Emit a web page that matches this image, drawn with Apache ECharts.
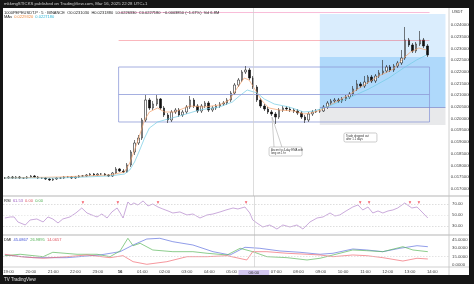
<!DOCTYPE html>
<html><head><meta charset="utf-8">
<script src="https://cdn.jsdelivr.net/npm/echarts@6/dist/echarts.min.js"></script>
<style>html,body{margin:0;padding:0;background:#000}#c{width:474px;height:284px}</style>
</head><body><div id="c"></div><script>
// ---------- data ----------
const barStart = -10;   // minutes after 19:00 of first bar
const barStep = 10;     // minutes per bar
// [open, close, low, high]
const candles = [
[0.017461,0.017461,0.017419,0.017504],[0.017461,0.017504,0.017419,0.017547],[0.017504,0.017461,0.017419,0.017547],
[0.017461,0.017504,0.017419,0.017547],[0.017504,0.017461,0.017419,0.017547],[0.017461,0.017461,0.017419,0.017504],
[0.017461,0.017504,0.017419,0.017547],[0.017504,0.017547,0.017461,0.017590],[0.017547,0.017504,0.017461,0.017590],
[0.017504,0.017461,0.017419,0.017547],[0.017461,0.017461,0.017419,0.017504],[0.017461,0.017419,0.017376,0.017504],
[0.017419,0.017376,0.017333,0.017461],[0.017376,0.017419,0.017333,0.017461],[0.017419,0.017461,0.017376,0.017504],
[0.017461,0.017461,0.017419,0.017504],[0.017461,0.017504,0.017419,0.017547],[0.017504,0.017504,0.017461,0.017547],
[0.017504,0.017461,0.017419,0.017547],[0.017461,0.017504,0.017419,0.017547],[0.017504,0.017547,0.017461,0.017590],
[0.017547,0.017547,0.017504,0.017590],[0.017547,0.017590,0.017504,0.017632],[0.017590,0.017632,0.017547,0.017675],
[0.017632,0.017590,0.017547,0.017675],[0.017590,0.017632,0.017547,0.017675],[0.017632,0.017632,0.017590,0.017675],
[0.017632,0.017590,0.017547,0.017675],[0.017590,0.017547,0.017504,0.017632],[0.017547,0.017675,0.017504,0.017718],
[0.017675,0.017846,0.017632,0.017931],[0.017846,0.017760,0.017718,0.017889],[0.017760,0.017718,0.017675,0.017846],
[0.017718,0.018017,0.017675,0.018102],[0.018017,0.018573,0.017931,0.018658],[0.018573,0.018957,0.018444,0.019085],
[0.018957,0.019171,0.018872,0.019299],[0.019171,0.019940,0.019085,0.020026],[0.019940,0.020795,0.019855,0.021009],
[0.020795,0.020453,0.020368,0.020880],[0.020453,0.020624,0.020368,0.020752],[0.020624,0.020838,0.020539,0.021009],
[0.020838,0.020453,0.020368,0.020880],[0.020453,0.020154,0.020068,0.020539],[0.020154,0.019940,0.019812,0.020239],
[0.019940,0.020282,0.019855,0.020368],[0.020282,0.020368,0.020197,0.020453],[0.020368,0.020154,0.020068,0.020453],
[0.020154,0.020282,0.020068,0.020368],[0.020282,0.020496,0.020197,0.020581],[0.020496,0.020795,0.020410,0.020966],
[0.020795,0.020539,0.020453,0.020880],[0.020539,0.020325,0.020239,0.020624],[0.020325,0.020539,0.020239,0.020624],
[0.020539,0.020667,0.020453,0.020752],[0.020667,0.020368,0.020282,0.020752],[0.020368,0.020453,0.020282,0.020539],
[0.020453,0.020539,0.020368,0.020624],[0.020539,0.020624,0.020453,0.020710],[0.020624,0.020667,0.020539,0.020752],
[0.020667,0.020795,0.020581,0.020880],[0.020795,0.021094,0.020710,0.021180],[0.021094,0.021436,0.021009,0.021522],
[0.021436,0.021650,0.021351,0.021735],[0.021650,0.021992,0.021564,0.022077],[0.021992,0.022077,0.021906,0.022248],
[0.022077,0.021735,0.021650,0.022163],[0.021735,0.021351,0.021265,0.021821],[0.021351,0.020795,0.020710,0.021436],
[0.020795,0.020539,0.020453,0.020880],[0.020539,0.020410,0.020325,0.020624],[0.020410,0.020282,0.020197,0.020496],
[0.020282,0.020197,0.020111,0.020368],[0.020197,0.020068,0.019769,0.020282],[0.020068,0.020368,0.019983,0.020453],
[0.020368,0.020453,0.020282,0.020539],[0.020453,0.020410,0.020325,0.020539],[0.020410,0.020368,0.020282,0.020496],
[0.020368,0.020325,0.020239,0.020453],[0.020325,0.020239,0.020154,0.020410],[0.020239,0.020068,0.019983,0.020325],
[0.020068,0.019940,0.019812,0.020154],[0.019940,0.020197,0.019855,0.020282],[0.020197,0.020282,0.020111,0.020368],
[0.020282,0.020325,0.020239,0.020410],[0.020325,0.020325,0.020239,0.020410],[0.020325,0.020496,0.020282,0.020581],
[0.020496,0.020667,0.020410,0.020752],[0.020667,0.020752,0.020581,0.020838],[0.020752,0.020795,0.020667,0.020880],
[0.020795,0.020752,0.020667,0.020880],[0.020752,0.020838,0.020667,0.020923],[0.020838,0.020923,0.020752,0.021009],
[0.020923,0.021051,0.020838,0.021137],[0.021051,0.021265,0.020966,0.021393],[0.021265,0.021479,0.021180,0.021650],
[0.021479,0.021393,0.021308,0.021564],[0.021393,0.021564,0.021308,0.021821],[0.021564,0.021778,0.021479,0.021864],
[0.021778,0.021607,0.021522,0.021864],[0.021607,0.021821,0.021522,0.021906],[0.021821,0.021949,0.021735,0.022077],
[0.021949,0.022034,0.021864,0.022505],[0.022034,0.022205,0.021949,0.022291],[0.022205,0.022077,0.021992,0.022291],
[0.022077,0.022248,0.021992,0.022334],[0.022248,0.022376,0.022163,0.022462],[0.022376,0.022590,0.022291,0.022932],
[0.022590,0.023359,0.022505,0.023915],[0.023359,0.023146,0.023060,0.023445],[0.023146,0.022889,0.022804,0.023231],
[0.022889,0.023188,0.022804,0.023274],[0.023188,0.023359,0.023103,0.023744],[0.023359,0.023103,0.023017,0.023445],
[0.023103,0.022718,0.022633,0.023188]
];
// moving averages [minute, price]
const maFast = [[-10,0.017461],[138,0.017504],[273,0.017590],[313,0.017718],[327,0.018102],[340,0.018658],[354,0.019299],[367,0.019940],[380,0.020282],[402,0.020453],[421,0.020282],[448,0.020282],[488,0.020539],[528,0.020496],[569,0.020581],[596,0.020795],[617,0.021308],[636,0.021735],[649,0.021650],[666,0.021222],[682,0.020795],[703,0.020453],[730,0.020368],[770,0.020325],[797,0.020197],[816,0.020239],[843,0.020368],[878,0.020667],[918,0.021009],[959,0.021436],[999,0.021821],[1039,0.022120],[1066,0.022590],[1085,0.022847],[1107,0.023017],[1128,0.022932]];
const maSlow = [[-10,0.017461],[138,0.017461],[273,0.017547],[313,0.017632],[327,0.017803],[340,0.018145],[354,0.018658],[367,0.019171],[380,0.019598],[402,0.019855],[421,0.019940],[461,0.020111],[515,0.020368],[569,0.020496],[604,0.020710],[623,0.020966],[644,0.021222],[671,0.021094],[690,0.020838],[717,0.020624],[757,0.020496],[797,0.020282],[824,0.020325],[865,0.020539],[918,0.020880],[972,0.021265],[1026,0.021735],[1066,0.022163],[1101,0.022505],[1128,0.022718]];
// RSI [minute, value]
const rsiPoints = [[-10,44.5],[5,46.4],[15,46.4],[25,37.3],[45,31.8],[58,40.9],[76,42.7],[93,37.3],[106,46.4],[119,42.7],[133,35.5],[146,42.7],[165,46.4],[181,53.6],[197,62.7],[211,53.6],[224,50],[238,46.4],[251,51.8],[265,44.5],[278,55.5],[292,62.7],[302,51.8],[308,44.5],[321,73.6],[329,68.2],[337,71.8],[348,68.2],[362,75.5],[375,66.4],[388,70],[402,64.5],[415,60.9],[429,57.3],[442,53.6],[461,55.5],[480,50],[496,51.8],[515,44.5],[534,50],[550,51.8],[569,55.5],[585,59.1],[604,62.7],[617,60.9],[636,64.5],[649,53.6],[657,40.9],[668,35.5],[684,28.2],[703,31.8],[722,24.5],[738,31.8],[757,28.2],[776,31.8],[792,24.5],[811,37.3],[830,44.5],[846,46.4],[865,53.6],[878,48.2],[891,50],[908,57.3],[926,64.5],[940,68.2],[953,59.1],[967,64.5],[980,53.6],[994,57.3],[1007,53.6],[1021,57.3],[1034,59.1],[1047,62.7],[1066,71.8],[1077,66.4],[1085,62.7],[1099,64.5],[1107,59.1],[1115,53.6],[1128,44.5]];
const rsiSignalTimes = [200,294,402,639,946,970,1080,1104];
const rsiSignalLevel = 72.4;
// DMI [minute, value]
const adx = [[-10,17.7],[66,12.8],[157,12.8],[246,17.7],[300,23.7],[335,35.9],[372,46.8],[407,48.1],[442,41.9],[496,35.9],[550,23.7],[596,17.7],[636,31.7],[676,29.9],[730,25.0],[784,22.6],[838,19.0],[873,20.8],[926,28.6],[964,26.8],[1007,23.7],[1053,29.9],[1099,34.6],[1128,32.8]];
const plusDI = [[-10,16.4],[31,19.0],[93,14.6],[119,22.6],[184,19.0],[238,19.0],[273,14.6],[300,25.0],[321,48.1],[335,34.6],[354,39.0],[388,26.8],[442,23.7],[496,23.7],[534,20.8],[588,17.7],[623,29.9],[657,23.7],[695,14.6],[749,12.8],[803,8.6],[838,11.7],[873,17.7],[926,26.8],[964,25.5],[1007,23.7],[1061,32.8],[1088,26.8],[1128,23.7]];
const minusDI = [[-10,19.0],[31,14.6],[93,11.7],[157,14.6],[211,17.7],[273,12.8],[308,16.4],[335,5.5],[372,0.7],[426,5.5],[480,14.6],[534,14.6],[588,16.4],[641,8.6],[657,23.7],[695,23.7],[749,20.8],[803,19.0],[838,17.7],[873,14.6],[926,17.7],[964,16.4],[1007,12.8],[1061,6.7],[1099,11.7],[1128,10.4]];
// axes ticks
const timeTicks = [0,60,120,180,240,300,360,420,480,540,600,660,720,780,840,900,960,1020,1080,1140];
const timeTickLabels = ['19:00','20:00','21:00','22:00','23:00','16','01:00','02:00','03:00','04:00','05:00','06:00','07:00','08:00','09:00','10:00','11:00','12:00','13:00','14:00'];
const priceTicks = [0.0170,0.0175,0.0180,0.0185,0.0190,0.0195,0.0200,0.0205,0.0210,0.0215,0.0220,0.0225,0.0230,0.0235,0.0240];
const rsiTicks = [30,50,70];
const dmiTicks = [0,15,30,45];
const crosshairTime = 660;
// drawings (data coordinates)
const position = {start:840, end:1179, target:0.024471, mid:0.022633, entry:0.020496, stop:0.019727};
const rangeBox = {start:297, end:1136, top:0.022205, mid:0.021051, bottom:0.019855};
const redLine = {start:297, end:1136, price:0.023359};
const pinkLine = {start:297, end:1136, price:0.024526};
const callouts = [
  {t:703, price:0.018786, tipT:711, tipPrice:0.020068, lines:['Ascent to 4-day EMA with','long on 1 hr']},
  {t:905, price:0.019385, lines:['Trade dropped out','after 1.1 days']}
];

// ---------- chart ----------
const FONT = '"Liberation Sans", Arial, sans-serif';
const chart = echarts.init(document.getElementById('c'), null, {renderer:'canvas'});
const candleData = candles.map((c, i) => [barStart + barStep * i, c[0], c[1], c[2], c[3]]);
const xCommon = {type:'value', min:-15, max:1185, axisTick:{show:false}, splitLine:{show:false}, axisLine:{show:false, onZero:false}};
const yCommon = {type:'value', position:'right', scale:true, splitLine:{show:false}, axisLine:{show:false}, axisTick:{show:false}};
const labelStyle = {fontSize:4.3, color:'#444', fontFamily:FONT, margin:3};
const crossLine = {xAxis:crosshairTime, lineStyle:{color:'#cfcfcf', width:0.7, type:'solid'}};

const option = {
  animation:false,
  backgroundColor:'#ffffff',
  grid:[
    {left:3, right:25, top:8, height:188},
    {left:3, right:25, top:196, height:39},
    {left:3, right:25, top:235, height:32}
  ],
  xAxis:[
    Object.assign({}, xCommon, {gridIndex:0, axisLabel:{show:false}}),
    Object.assign({}, xCommon, {gridIndex:1, axisLabel:{show:false}}),
    Object.assign({}, xCommon, {gridIndex:2, axisLabel:Object.assign({}, labelStyle, {
      customValues:timeTicks, margin:3,
      formatter:(v) => { const k = timeTicks.indexOf(v); const s = timeTickLabels[k] || '';
        if (v === crosshairTime) return '{hl|' + s + '}';
        if (s === '16') return '{b|16}';
        return s; },
      rich:{hl:{backgroundColor:'#d3c7f0', padding:[1,10,1,10], fontSize:4.3, color:'#333', fontFamily:FONT},
            b:{fontWeight:'bold', fontSize:4.3, color:'#222', fontFamily:FONT}}
    })})
  ],
  yAxis:[
    Object.assign({}, yCommon, {gridIndex:0, min:0.016692, max:0.024727, axisLabel:Object.assign({}, labelStyle, {customValues:priceTicks, formatter:(v)=>v.toFixed(7)})}),
    Object.assign({}, yCommon, {gridIndex:1, min:13.6, max:84.5, axisLabel:Object.assign({}, labelStyle, {customValues:rsiTicks, formatter:(v)=>v.toFixed(2)})}),
    Object.assign({}, yCommon, {gridIndex:2, min:-4.2, max:54.1, axisLabel:Object.assign({}, labelStyle, {customValues:dmiTicks, formatter:(v)=>v.toFixed(4)})})
  ],
  series:[
    {type:'candlestick', xAxisIndex:0, yAxisIndex:0, data:candleData, encode:{x:0, y:[1,2,3,4]}, barWidth:2,
     itemStyle:{color:'#ffffff', color0:'#111111', borderColor:'#222222', borderColor0:'#111111', borderWidth:0.6},
     markArea:{silent:true, data:[
       [{xAxis:position.start, yAxis:position.mid, itemStyle:{color:'rgba(33,150,243,0.17)'}}, {xAxis:position.end, yAxis:position.target}],
       [{xAxis:position.start, yAxis:position.entry, itemStyle:{color:'rgba(33,150,243,0.36)'}}, {xAxis:position.end, yAxis:position.mid}],
       [{xAxis:position.start, yAxis:position.stop, itemStyle:{color:'rgba(120,123,134,0.17)'}}, {xAxis:position.end, yAxis:position.entry}],
       [{xAxis:rangeBox.start, yAxis:rangeBox.bottom, itemStyle:{color:'rgba(0,0,0,0)', borderColor:'#8e9ad8', borderWidth:0.8}}, {xAxis:rangeBox.end, yAxis:rangeBox.top}]
     ]},
     markLine:{symbol:'none', silent:true, label:{show:false}, data:[
       [{coord:[rangeBox.start, rangeBox.mid], lineStyle:{color:'#8e9ad8', width:0.8, type:'solid'}}, {coord:[rangeBox.end, rangeBox.mid]}],
       [{coord:[redLine.start, redLine.price], lineStyle:{color:'rgba(242,54,69,0.45)', width:0.8, type:'solid'}}, {coord:[redLine.end, redLine.price]}],
       [{coord:[pinkLine.start, pinkLine.price], lineStyle:{color:'rgba(240,90,160,0.5)', width:0.8, type:'solid'}}, {coord:[pinkLine.end, pinkLine.price]}],
       [{coord:[position.start, position.entry], lineStyle:{color:'#7f8fcf', width:0.8, type:'solid'}}, {coord:[position.end, position.entry]}],
       crossLine
     ]}
    },
    {type:'line', xAxisIndex:0, yAxisIndex:0, data:maFast, showSymbol:false, silent:true, lineStyle:{color:'#f3a06a', width:0.7}},
    {type:'line', xAxisIndex:0, yAxisIndex:0, data:maSlow, showSymbol:false, silent:true, lineStyle:{color:'#72cbe4', width:0.7}},
    {type:'line', xAxisIndex:1, yAxisIndex:1, data:rsiPoints, showSymbol:false, silent:true, lineStyle:{color:'#b385cc', width:0.7},
     markLine:{symbol:'none', silent:true, label:{show:false}, data:[
       {yAxis:70, lineStyle:{color:'#c8c8c8', width:0.6, type:[1.5,1.5]}},
       {yAxis:50, lineStyle:{color:'#dddddd', width:0.6, type:[1.5,1.5]}},
       {yAxis:30, lineStyle:{color:'#c8c8c8', width:0.6, type:[1.5,1.5]}},
       crossLine
     ]}},
    {type:'scatter', xAxisIndex:1, yAxisIndex:1, data:rsiSignalTimes.map(t=>[t, rsiSignalLevel]), symbol:'triangle', symbolRotate:180, symbolSize:2.6, silent:true, itemStyle:{color:'#f23645'}},
    {type:'line', xAxisIndex:2, yAxisIndex:2, data:adx, showSymbol:false, silent:true, lineStyle:{color:'#6272e0', width:0.7},
     markLine:{symbol:'none', silent:true, label:{show:false}, data:[
       {yAxis:15, lineStyle:{color:'#d0d0d0', width:0.6, type:[1.5,1.5]}},
       crossLine
     ]}},
    {type:'line', xAxisIndex:2, yAxisIndex:2, data:plusDI, showSymbol:false, silent:true, lineStyle:{color:'#5cb85c', width:0.7}},
    {type:'line', xAxisIndex:2, yAxisIndex:2, data:minusDI, showSymbol:false, silent:true, lineStyle:{color:'#f06a72', width:0.7}}
  ]
};
chart.setOption(option);

// ---------- overlay texts / frame ----------
const els = [];
const txt = (x, y, text, size, fill, extra) => els.push(Object.assign({type:'text', x:x, y:y, z:120, silent:true,
  style:Object.assign({text:text, fontSize:size, fontFamily:FONT, fill:fill, verticalAlign:'middle'}, extra||{})}));
const line = (x1,y1,x2,y2,c,w) => els.push({type:'line', z:50, silent:true, shape:{x1,y1,x2,y2}, style:{stroke:c, lineWidth:w}});
line(3,196,469,196,'#b5b5b5',1);
line(3,235,469,235,'#b5b5b5',1);
line(3,267,469,267,'#c4c4c4',0.8);
line(449,8,449,275,'#c4c4c4',0.8);
callouts.forEach((c) => {
  const p = chart.convertToPixel({xAxisIndex:0, yAxisIndex:0}, [c.t, c.price]);
  if (c.tipT != null) {
    const tip = chart.convertToPixel({xAxisIndex:0, yAxisIndex:0}, [c.tipT, c.tipPrice]);
    els.push({type:'polygon', z:60, silent:true, shape:{points:[[tip[0],tip[1]],[p[0]+5,p[1]+0.5],[p[0]+13,p[1]+0.5]]}, style:{fill:'#fff', stroke:'#9a9a9a', lineWidth:0.5}});
  }
  els.push({type:'rect', z:61, silent:true, shape:{x:p[0], y:p[1], width:33, height:9, r:1.5}, style:{fill:'#fff', stroke:'#9a9a9a', lineWidth:0.5}});
  txt(p[0]+2, p[1]+3, c.lines[0], 2.8, '#333');
  txt(p[0]+2, p[1]+6.3, c.lines[1], 2.8, '#333');
});
const rect = (x,y,w,h) => els.push({type:'rect', z:100, silent:true, shape:{x,y,width:w,height:h}, style:{fill:'#161616'}});
rect(0,0,474,8); rect(0,275,474,9); rect(0,0,3,284); rect(469,0,5,284);
txt(4, 4, 'mkkmgSTICKS published on TradingView.com, Mar 16, 2025 22:28 UTC+1', 4.3, '#d0d0d0');
txt(4, 12.5, '1000PEPEUSDT.P · 5 · BINANCE  O0.0231030  H0.0231880  L0.0226330  C0.0227180  −0.0003850 (−1.67%)  Vol 6.8M', 4, '#222');
els.push({type:'text', x:4, y:17.2, z:120, silent:true, style:{text:'{a|MAs}  {o|0.0229320}  {c|0.0227180}', fontSize:4, fontFamily:FONT, verticalAlign:'middle',
  rich:{a:{fill:'#222', fontSize:4, fontFamily:FONT}, o:{fill:'#f08a3c', fontSize:4, fontFamily:FONT}, c:{fill:'#2cb5d6', fontSize:4, fontFamily:FONT}}}});
els.push({type:'text', x:4, y:201, z:120, silent:true, style:{text:'{a|RSI}  {p|61.53}  {r|0.00}  {g|0.00}', fontSize:4, fontFamily:FONT, verticalAlign:'middle',
  rich:{a:{fill:'#222', fontSize:4, fontFamily:FONT}, p:{fill:'#9c5bc0', fontSize:4, fontFamily:FONT}, r:{fill:'#e05560', fontSize:4, fontFamily:FONT}, g:{fill:'#4caf50', fontSize:4, fontFamily:FONT}}}});
els.push({type:'text', x:4, y:239.5, z:120, silent:true, style:{text:'{a|DMI}  {b|45.0867}  {g|26.9895}  {r|14.0657}', fontSize:4, fontFamily:FONT, verticalAlign:'middle',
  rich:{a:{fill:'#222', fontSize:4, fontFamily:FONT}, b:{fill:'#3d4fd6', fontSize:4, fontFamily:FONT}, g:{fill:'#4caf50', fontSize:4, fontFamily:FONT}, r:{fill:'#e05560', fontSize:4, fontFamily:FONT}}}});
txt(452, 12, 'USDT', 4, '#333');
txt(4, 279.5, 'TV TradingView', 4.5, '#e0e0e0');
chart.setOption({graphic:[{elements:els}]});
</script></body></html>
